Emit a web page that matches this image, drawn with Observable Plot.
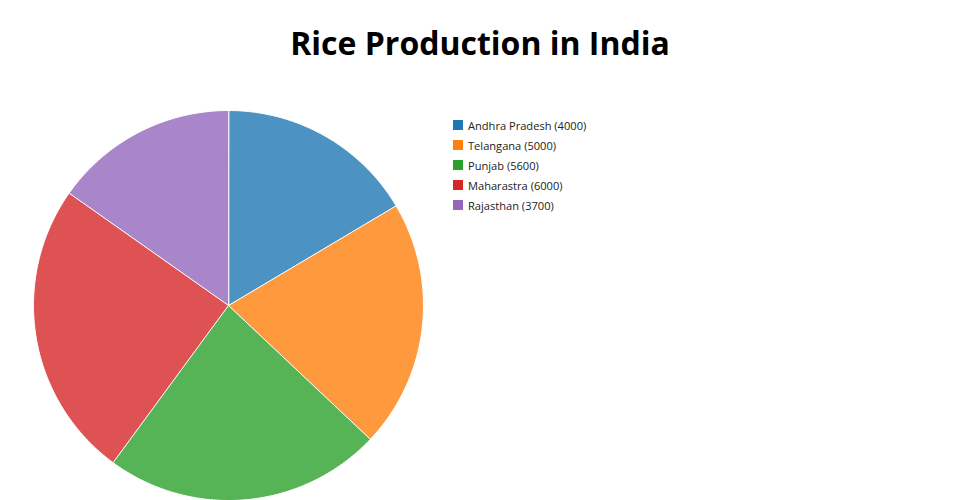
<!DOCTYPE html>
<html>
<head>
<meta charset="utf-8">
<script src="https://cdn.jsdelivr.net/npm/d3@7"></script>
<script src="https://cdn.jsdelivr.net/npm/@observablehq/plot@0.6"></script>
<style>
  html, body { margin: 0; padding: 0; background: #fff; }
  #wrap { position: relative; width: 960px; height: 500px; overflow: hidden; font-family: "Open Sans", sans-serif; }
  #title { position: absolute; left: 0; top: 0; width: 960px; height: 80px; text-align: center; font-weight: 700; font-size: 32px; line-height: 86px; color: #000; }
  #chart { position: absolute; left: 0; top: 80px; }
  #legend { position: absolute; left: 453px; top: 115px; font-size: 11.1px; color: #222; }
  .item { height: 20px; display: flex; align-items: center; white-space: nowrap; }
  .sw { width: 10px; height: 10px; margin-right: 5px; display: inline-block; }
</style>
</head>
<body>
<div id="wrap">
  <div id="title">Rice Production in India</div>
  <div id="chart"></div>
  <div id="legend"></div>
</div>
<script>
const states = ["Andhra Pradesh", "Telangana", "Punjab", "Maharastra", "Rajasthan"];
const production = [4000, 5000, 5600, 6000, 3700];
const colors = ["#1f77b4", "#ff7f0e", "#2ca02c", "#d62728", "#9467bd"];

const data = states.map((s, i) => ({state: s, value: production[i]}));
const arcs = d3.pie().sort(null).value(d => d.value)(data);

// Build slice outlines in unit coordinates (angle 0 = top, clockwise)
const pts = [];
arcs.forEach(a => {
  const name = a.data.state;
  pts.push({state: name, x: 0, y: 0});
  const n = Math.max(2, Math.ceil((a.endAngle - a.startAngle) / (Math.PI / 180)));
  for (let k = 0; k <= n; k++) {
    const t = a.startAngle + (a.endAngle - a.startAngle) * k / n;
    pts.push({state: name, x: Math.sin(t), y: Math.cos(t)});
  }
});

const R = 195, cx = 228, cy = 225;
const plot = Plot.plot({
  width: 960,
  height: 420,
  margin: 0,
  x: {domain: [-1, 1], range: [cx - R, cx + R], axis: null},
  y: {domain: [-1, 1], range: [cy + R, cy - R], axis: null},
  color: {domain: states, range: colors},
  marks: [
    Plot.line(pts, {
      x: "x", y: "y", z: "state",
      fill: "state", fillOpacity: 0.8,
      stroke: "#fff", strokeWidth: 1, strokeOpacity: 1,
      curve: "linear-closed"
    })
  ]
});
document.getElementById("chart").appendChild(plot);

const legend = document.getElementById("legend");
states.forEach((s, i) => {
  const div = document.createElement("div");
  div.className = "item";
  const sw = document.createElement("span");
  sw.className = "sw";
  sw.style.background = colors[i];
  div.appendChild(sw);
  div.appendChild(document.createTextNode(`${s} (${production[i]})`));
  legend.appendChild(div);
});
</script>
</body>
</html>
